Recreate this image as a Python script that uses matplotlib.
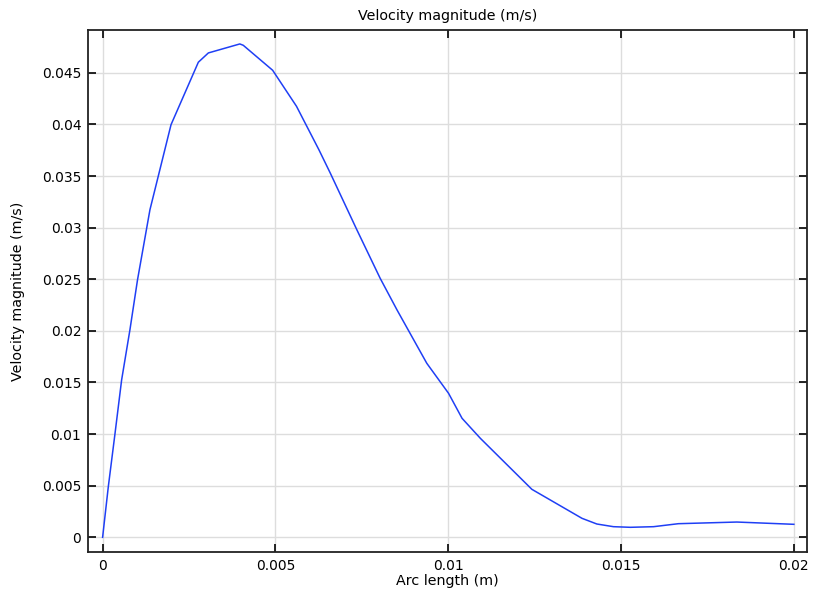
import numpy as np
import matplotlib
matplotlib.use('Agg')
import matplotlib.pyplot as plt

# Arc length (m) and velocity magnitude (m/s)
arc_length = [0.0, 0.000165, 0.00036, 0.00055, 0.00079, 0.00087, 0.00101, 0.00137,
              0.00198, 0.00277, 0.00306, 0.00397, 0.00407, 0.00492, 0.00561, 0.00626,
              0.00659, 0.00736, 0.00803, 0.00852, 0.00938, 0.01001, 0.0104, 0.01093,
              0.01242, 0.01387, 0.0143, 0.01478, 0.01527, 0.01594, 0.01666, 0.01835, 0.02]
velocity = [0.0, 0.0049, 0.01008, 0.01524, 0.02009, 0.02186, 0.02494, 0.03174,
            0.03998, 0.04603, 0.04693, 0.0478, 0.04767, 0.04525, 0.04176, 0.03754,
            0.03527, 0.02977, 0.0251, 0.02202, 0.01686, 0.01395, 0.01153, 0.00959,
            0.00465, 0.00184, 0.00129, 0.00103, 0.00097, 0.00103, 0.00132, 0.00148, 0.00126]

x_ticks = [0, 0.005, 0.01, 0.015, 0.02]
x_labels = ['0', '0.005', '0.01', '0.015', '0.02']
y_ticks = [0, 0.005, 0.01, 0.015, 0.02, 0.025, 0.03, 0.035, 0.04, 0.045]
y_labels = ['0', '0.005', '0.01', '0.015', '0.02', '0.025', '0.03', '0.035', '0.04', '0.045']

fig = plt.figure(figsize=(8.13, 5.98), dpi=100)
ax = fig.add_axes([0.1086, 0.0769, 0.884, 0.8729])

ax.plot(arc_length, velocity, color='#1f3ff5', linewidth=1.1)

ax.set_xlim(-0.000414, 0.02038)
ax.set_ylim(-0.001424, 0.04915)
ax.set_xticks(x_ticks)
ax.set_xticklabels(x_labels)
ax.set_yticks(y_ticks)
ax.set_yticklabels(y_labels)

ax.grid(True, color='#dddddd', linewidth=1.0)
ax.set_axisbelow(True)
ax.tick_params(direction='in', length=6, width=1.2, labelsize=10,
               top=True, right=True, pad=5)
for s in ax.spines.values():
    s.set_linewidth(1.3)
    s.set_color('#222222')

ax.set_title('Velocity magnitude (m/s)', fontsize=10.3, pad=7)
ax.set_xlabel('Arc length (m)', fontsize=10.3, labelpad=1)
ax.set_ylabel('Velocity magnitude (m/s)', fontsize=10.3, labelpad=12)

fig.savefig('out.png', dpi=100)
